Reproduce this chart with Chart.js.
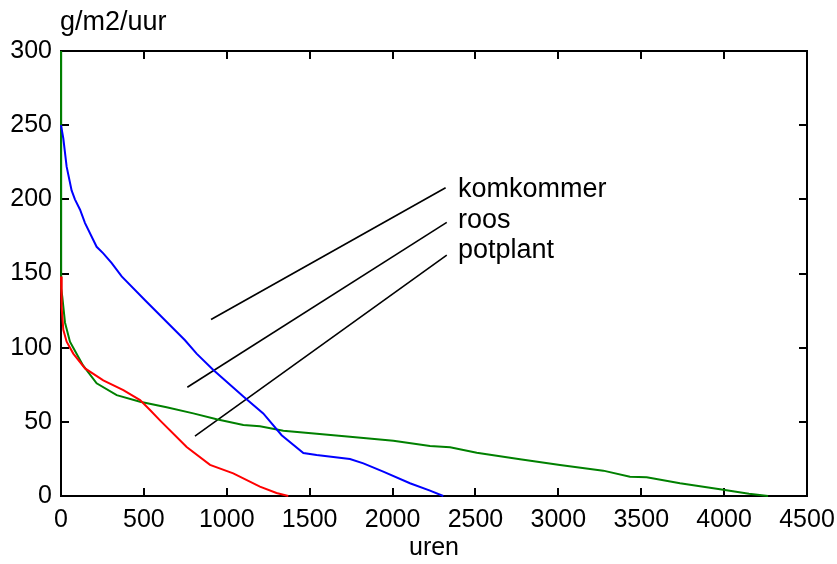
<!DOCTYPE html>
<html>
<head>
<meta charset="utf-8">
<script src="https://cdn.jsdelivr.net/npm/chart.js@4.4.0/dist/chart.umd.min.js"></script>
<style>
  html, body { margin: 0; padding: 0; background: #fff; }
  #wrap { width: 837px; height: 564px; }
</style>
</head>
<body>
<div id="wrap"><canvas id="chart" width="837" height="564"></canvas></div>
<script>
// === data ===
const komkommerX = [0, 4, 14, 34, 64, 84, 115, 145, 215, 255, 306, 366, 507, 748, 818, 919, 1100, 1220, 1331, 1462, 1542, 1743, 1824, 1944, 2105, 2226, 2306];
const komkommerY = [250, 250, 241, 222, 206, 200, 193, 184, 168, 163.6, 157, 148, 132, 105, 96, 85, 67, 55.7, 41, 29, 27.6, 24.9, 22, 16.4, 8.6, 3.6, 0];

const roosX = [0, 4, 14, 34, 74, 145, 255, 376, 477, 537, 597, 758, 899, 1039, 1200, 1300, 1371];
const roosY = [148, 127, 112, 104, 96, 86, 78, 71.4, 64.7, 58, 51, 33, 21, 15.3, 6.3, 2, 0];

const potplantX = [0, 0, 2, 8, 24, 54, 74, 133, 215, 336, 477, 637, 798, 939, 1100, 1200, 1341, 1543, 1743, 2005, 2226, 2347, 2508, 2769, 3010, 3271, 3432, 3533, 3734, 3975, 4150, 4265];
const potplantY = [300, 148, 140, 134, 117, 104, 100, 88, 76, 68, 63.6, 59.8, 55.7, 51.7, 47.9, 47, 44, 42, 40, 37.3, 33.7, 32.8, 29.2, 24.7, 20.9, 17.1, 13, 12.6, 8.6, 4.5, 1.5, 0];

// leader lines for the labels (start point, end point) in data units
const labelNames = ["komkommer", "roos", "potplant"];
const leaderX = [[905, 2320], [762, 2327], [808, 2327]];
const leaderY = [[119, 207.8], [73.3, 184.5], [40.4, 162.4]];
const labelAnchorX = [2395, 2395, 2395];
const labelAnchorY = [201.3, 180.4, 160.4];

const xTicks = [0, 500, 1000, 1500, 2000, 2500, 3000, 3500, 4000, 4500];
const yTicks = [0, 50, 100, 150, 200, 250, 300];
const yUnit = "g/m2/uur";
const xTitle = "uren";

const FONT = "'Liberation Sans', Arial, Helvetica, sans-serif";

function toPoints(xs, ys) {
  return xs.map((x, i) => ({ x: x, y: ys[i] }));
}

const curveStyle = { showLine: true, pointRadius: 0, borderWidth: 2, tension: 0, fill: false, clip: 4 };

const datasets = [
  Object.assign({ label: "komkommer", data: toPoints(komkommerX, komkommerY), borderColor: "#0000ff" }, curveStyle),
  Object.assign({ label: "roos", data: toPoints(roosX, roosY), borderColor: "#ff0000" }, curveStyle),
  Object.assign({ label: "potplant", data: toPoints(potplantX, potplantY), borderColor: "#008000" }, curveStyle),
];
leaderX.forEach((xs, i) => {
  datasets.push({
    label: labelNames[i] + " lijn",
    data: toPoints(xs, leaderY[i]),
    showLine: true, pointRadius: 0, borderWidth: 1.6, borderColor: "#000", tension: 0,
  });
});

// === frame with inward ticks + text labels ===
const framePlugin = {
  id: "frame",
  beforeDatasetsDraw(chart) {
    const { ctx, chartArea: a, scales: { x, y } } = chart;
    ctx.save();
    ctx.strokeStyle = "#000";
    ctx.lineWidth = 2;
    ctx.strokeRect(a.left, a.top, a.right - a.left, a.bottom - a.top);
    ctx.beginPath();
    const tl = 8;
    xTicks.forEach(v => {
      const px = Math.round(x.getPixelForValue(v));
      ctx.moveTo(px, a.bottom); ctx.lineTo(px, a.bottom - tl);
      ctx.moveTo(px, a.top); ctx.lineTo(px, a.top + tl);
    });
    yTicks.forEach(v => {
      const py = Math.round(y.getPixelForValue(v));
      ctx.moveTo(a.left, py); ctx.lineTo(a.left + tl, py);
      ctx.moveTo(a.right, py); ctx.lineTo(a.right - tl, py);
    });
    ctx.stroke();
    ctx.restore();
  },
  afterDraw(chart) {
    const { ctx, chartArea: a, scales: { x, y } } = chart;
    ctx.save();
    ctx.fillStyle = "#000";
    ctx.font = "27px " + FONT;
    ctx.textAlign = "left";
    ctx.textBaseline = "alphabetic";
    ctx.fillText(yUnit, a.left - 1, 30);
    labelNames.forEach((name, i) => {
      ctx.fillText(name, x.getPixelForValue(labelAnchorX[i]), y.getPixelForValue(labelAnchorY[i]));
    });
    ctx.restore();
  },
};

new Chart(document.getElementById("chart").getContext("2d"), {
  type: "scatter",
  data: { datasets: datasets },
  options: {
    responsive: false,
    animation: false,
    events: [],
    layout: { padding: { top: 51, right: 30, left: 0, bottom: 0 } },
    plugins: { legend: { display: false }, tooltip: { enabled: false } },
    scales: {
      x: {
        type: "linear", min: 0, max: 4500,
        afterFit: (s) => { s.height = 68; s.paddingLeft = 0; s.paddingRight = 0; },
        afterBuildTicks: (s) => { s.ticks = xTicks.map(v => ({ value: v })); },
        grid: { display: false, drawTicks: false },
        border: { display: false },
        ticks: { color: "#000", padding: 9, maxRotation: 0, autoSkip: false, font: { family: FONT, size: 25 },
                 callback: (v) => String(v) },
        title: { display: true, text: xTitle, color: "#000", font: { family: FONT, size: 25 }, padding: { top: 0, bottom: 1 } },
      },
      y: {
        type: "linear", min: 0, max: 300,
        afterFit: (s) => { s.width = 61; s.paddingTop = 0; s.paddingBottom = 0; },
        afterBuildTicks: (s) => { s.ticks = yTicks.map(v => ({ value: v })); },
        grid: { display: false, drawTicks: false },
        border: { display: false },
        ticks: { color: "#000", padding: 9, font: { family: FONT, size: 25 }, callback: (v) => String(v) },
      },
    },
  },
  plugins: [framePlugin],
});
</script>
</body>
</html>
